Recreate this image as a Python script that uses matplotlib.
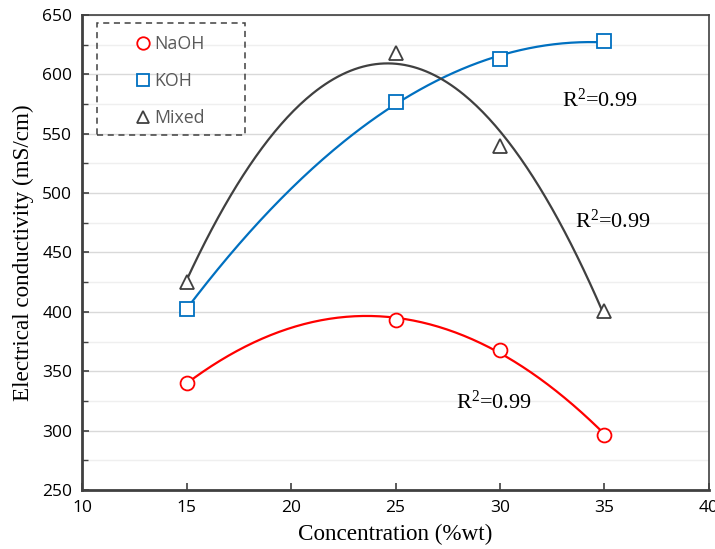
"""
Electrical conductivity vs. concentration with quadratic trendlines.
"""
import matplotlib.pyplot as plt
import numpy as np
from matplotlib.patches import Rectangle
from matplotlib.ticker import MultipleLocator

# data
concentration = [15, 25, 30, 35]
naoh = [340, 393, 368, 296]
koh = [402, 577, 613, 628]
mixed = [425, 618, 540, 401]

series_names = ["NaOH", "KOH", "Mixed"]
r2_labels = ["R$^2$=0.99", "R$^2$=0.99", "R$^2$=0.99"]

SANS = ["Open Sans", "DejaVu Sans"]
SERIF = ["Liberation Serif", "DejaVu Serif"]

plt.rcParams["mathtext.fontset"] = "custom"
plt.rcParams["mathtext.rm"] = "Liberation Serif"
plt.rcParams["mathtext.it"] = "Liberation Serif:italic"


def _trend(x, y, ax, color):
    """Draws a 2nd order polynomial trendline across the data range."""
    coefs = np.polyfit(x, y, 2)
    xs = np.linspace(min(x), max(x), 200)
    ax.plot(xs, np.polyval(coefs, xs), color=color, lw=1.6, zorder=2)


fig = plt.figure(figsize=(7.15, 5.49), dpi=100)
ax = fig.add_axes([0.1147, 0.1075, 0.8769, 0.8652])

styles = [("#FF0000", "o"), ("#0070C0", "s"), ("#404040", "^")]
for values, name, (color, marker) in zip([naoh, koh, mixed], series_names, styles):
    _trend(concentration, values, ax, color)
    ax.plot(concentration, values, ls="none", marker=marker, ms=10, mfc="white",
            mec=color, mew=1.3, label=name, zorder=3)

# axes
ax.set_xlim(10, 40)
ax.set_ylim(250, 650)
ax.xaxis.set_major_locator(MultipleLocator(5))
ax.yaxis.set_major_locator(MultipleLocator(50))
ax.yaxis.set_minor_locator(MultipleLocator(25))
ax.tick_params(axis="both", which="both", direction="in", colors="#404040",
               labelcolor="black", labelsize=12.5)
ax.tick_params(axis="both", which="major", length=5, width=1.2)
ax.tick_params(axis="x", which="major", pad=7)
ax.tick_params(axis="y", which="major", pad=7)
ax.tick_params(axis="y", which="minor", length=4, width=1.0)
for lbl in ax.get_xticklabels() + ax.get_yticklabels():
    lbl.set_family(SANS)

ax.grid(axis="y", which="major", color="#D9D9D9", lw=1.0, zorder=0)
ax.grid(axis="y", which="minor", color="#EFEFEF", lw=1.0, zorder=0)
ax.set_axisbelow(True)

for side in ["left", "bottom"]:
    ax.spines[side].set_linewidth(2.0)
    ax.spines[side].set_color("#404040")
for side in ["top", "right"]:
    ax.spines[side].set_linewidth(1.2)
    ax.spines[side].set_color("#404040")

ax.set_xlabel("Concentration (%wt)", family=SERIF, fontsize=16.7, labelpad=6)
ax.set_ylabel("Electrical conductivity (mS/cm)", family=SERIF, fontsize=16.7, labelpad=6)

# R^2 annotations
for (tx, ty), text in zip([(32.95, 578), (33.6, 476), (27.9, 324)], r2_labels):
    ax.text(tx, ty, text, family=SERIF, fontsize=16, va="center", ha="left")

# legend with dashed frame
leg = ax.legend(loc="upper left", bbox_to_anchor=(0.072, 0.972), frameon=False,
                prop={"family": SANS, "size": 12.8}, handlelength=1.0,
                markerscale=0.9, handletextpad=0.15, labelspacing=1.07,
                borderaxespad=0)
for txt in leg.get_texts():
    txt.set_color("#595959")
ax.add_patch(Rectangle((0.024, 0.747), 0.236, 0.236, transform=ax.transAxes,
                       fill=False, ls=(0, (4, 3)), lw=1.1, ec="#404040", zorder=5))

fig.savefig("out.png", dpi=100)
